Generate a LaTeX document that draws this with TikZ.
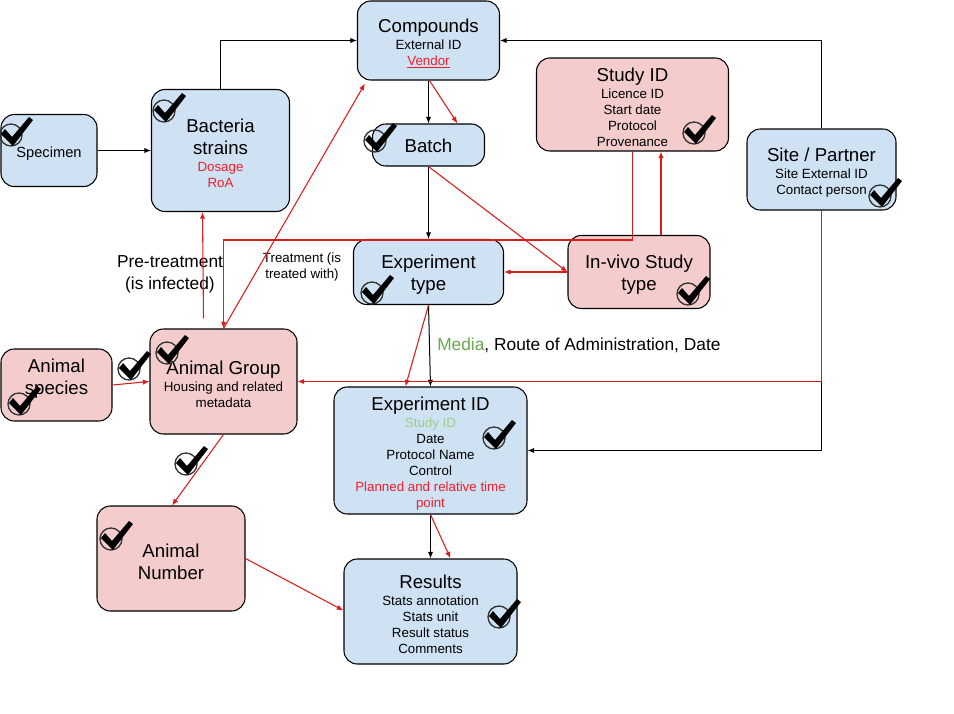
\documentclass[tikz,border=0pt]{standalone}
\usepackage{fontspec}
\setmainfont{Liberation Sans}
\usetikzlibrary{arrows.meta}
\definecolor{bluef}{HTML}{CFE2F3}
\definecolor{pinkf}{HTML}{F4CCCC}
\definecolor{redline}{HTML}{DE1B1B}
\definecolor{redt}{HTML}{F01E2A}
\definecolor{mgreen}{HTML}{6AA84F}
\definecolor{lgreen}{HTML}{9FCB8C}
\newcommand{\T}[1]{{\fontsize{14}{16.5}\selectfont #1}}
\newcommand{\Tf}[1]{\rule{0pt}{14.5pt}\T{#1}}
\begin{document}
\begin{tikzpicture}[x=0.75pt,y=-0.75pt,
  ebox/.style={draw=black, line width=0.8pt, rounded corners=10pt, inner sep=0pt, align=center, font=\fontsize{10}{12}\selectfont},
  bluebox/.style={ebox, fill=bluef},
  pinkbox/.style={ebox, fill=pinkf},
  blk/.style={draw=black, line width=0.75pt, -{Latex[length=5pt,width=4pt]}},
  rdl/.style={draw=redline, line width=0.8pt, -{Latex[length=5pt,width=4pt]}},
  lbl/.style={align=center, inner sep=0pt},
  chk/.pic={
    \draw[line width=1pt, draw=black!80] (0,0) circle[radius=11];
    \fill[black] (-10,-1) -- (-6,-6) -- (1,2) -- (18,-18) -- (22,-15) -- (2,11) -- cycle;
  }
]
\useasboundingbox[fill=white] (0,0) rectangle (954,714);

% boxes
\node[bluebox, minimum width=106.5pt, minimum height=59.25pt] (comp) at (428.5,40.5)
  {\Tf{Compounds}\\[1pt]External ID\\{\color{redt}\underline{Vendor}}};
\node[bluebox, minimum width=72pt, minimum height=54pt, font=\fontsize{11}{13}\selectfont] (spec) at (49,150.5) {\rule{0pt}{12.5pt}Specimen};
\node[bluebox, minimum width=103.5pt, minimum height=91.5pt] (bact) at (220.5,150.5)
  {\Tf{Bacteria}\\[4.5pt]\T{strains}\\[1pt]{\color{redt}Dosage}\\{\color{redt}RoA}};
\node[bluebox, minimum width=84pt, minimum height=31.5pt] (batch) at (428.5,145) {\rule{0pt}{12pt}\T{Batch}};
\node[pinkbox, minimum width=144pt, minimum height=69.75pt] (study) at (632.5,104.5)
  {\Tf{Study ID}\\[1pt]Licence ID\\Start date\\Protocol\\Provenance};
\node[bluebox, minimum width=111.75pt, minimum height=60.75pt] (site) at (821.5,169.5)
  {\Tf{Site / Partner}\\[1pt]Site External ID\\Contact person};
\node[pinkbox, minimum width=106.5pt, minimum height=54.75pt] (invivo) at (639,272)
  {\Tf{In-vivo Study}\\[4.5pt]\T{type}};
\node[bluebox, minimum width=112.5pt, minimum height=48.75pt] (exptype) at (428.5,272)
  {\Tf{Experiment}\\[4.5pt]\T{type}};
\node[pinkbox, minimum width=83.25pt, minimum height=54pt] (species) at (56.5,385)
  {\T{Animal}\\[4.5pt]\T{species\rule[-13pt]{0pt}{0pt}}};
\node[pinkbox, minimum width=110.25pt, minimum height=78.75pt] (group) at (223.5,381.5)
  {\Tf{Animal Group}\\[1pt]Housing and related\\metadata};
\node[bluebox, minimum width=144.75pt, minimum height=95.25pt] (expid) at (430.5,450.5)
  {\Tf{Experiment ID}\\[1pt]{\color{lgreen}Study ID}\\Date\\Protocol Name\\Control\\{\color{redt}Planned and relative time}\\{\color{redt}point}};
\node[bluebox, minimum width=129.75pt, minimum height=78.75pt] (results) at (430.5,611.5)
  {\Tf{Results}\\[1pt]Stats annotation\\Stats unit\\Result status\\Comments};
\node[pinkbox, minimum width=111pt, minimum height=78.75pt] (number) at (171,558.5)
  {\Tf{Animal}\\[4.5pt]\T{Number}};

% labels
\node[lbl, font=\fontsize{13}{16.5}\selectfont] (pretreat) at (170,274) {Pre-treatment\\(is infected)};
\node[lbl, font=\fontsize{10}{12}\selectfont] (treat) at (302,267.5) {Treatment (is\\treated with)};
\node[lbl, anchor=west, font=\fontsize{13}{16}\selectfont] (media) at (437,345) {{\color{mgreen}Media}, Route of Administration, Date};

% black connectors
\draw[blk] (spec.east) -- (bact.west);
\draw[blk] (bact.north) |- (comp.west);
\draw[blk] (comp.south) -- (batch.north);
\draw[blk] (batch.south) -- (exptype.north);
\draw[blk] (site.north) |- (comp.east);
\draw[blk] (site.south) |- (expid.east);
\draw[blk] (exptype.south) -- (expid.north);
\draw[blk] (expid.south) -- (results.north);

% red connectors
\draw[rdl] ([shift={(1,0)}]comp.south) -- ([shift={(29,0)}]batch.north);
\draw[rdl] (batch.south) -- (invivo.west);
\draw[rdl] (site.south) |- (group.east);
\draw[rdl] (exptype.south) -- ([shift={(-25,0)}]expid.north);
\draw[rdl] (invivo.west) -- (exptype.east);
\draw[rdl] ([shift={(22,0)}]invivo.north) -- ([shift={(28.5,0)}]study.south);
\draw[rdl] (study.south) |- ([shift={(0,-88.5)}]group.north) -- (group.north);
\draw[rdl] (group.north) -- ([shift={(8,3)}]comp.south west);
\draw[rdl] ([shift={(-20,-10)}]group.north) -- ([shift={(-18,0)}]bact.south);
\draw[rdl] (species.east) -- (group.west);
\draw[rdl] (group.south) -- ([shift={(1,0)}]number.north);
\draw[rdl] (number.east) -- ([shift={(0,-1)}]results.west);
\draw[rdl] (expid.south) -- ([shift={(20,0)}]results.north);

% check marks
\pic at (11,135) {chk};
\pic at (164,111) {chk};
\pic at (375,141) {chk};
\pic at (694,133) {chk};
\pic at (880,196) {chk};
\pic at (688,294) {chk};
\pic at (372,293) {chk};
\pic at (19,404) {chk};
\pic at (129,369) {chk};
\pic at (167,353) {chk};
\pic at (494,438) {chk};
\pic at (499,617) {chk};
\pic at (186,464) {chk};
\pic at (111,539) {chk};
\end{tikzpicture}
\end{document}
